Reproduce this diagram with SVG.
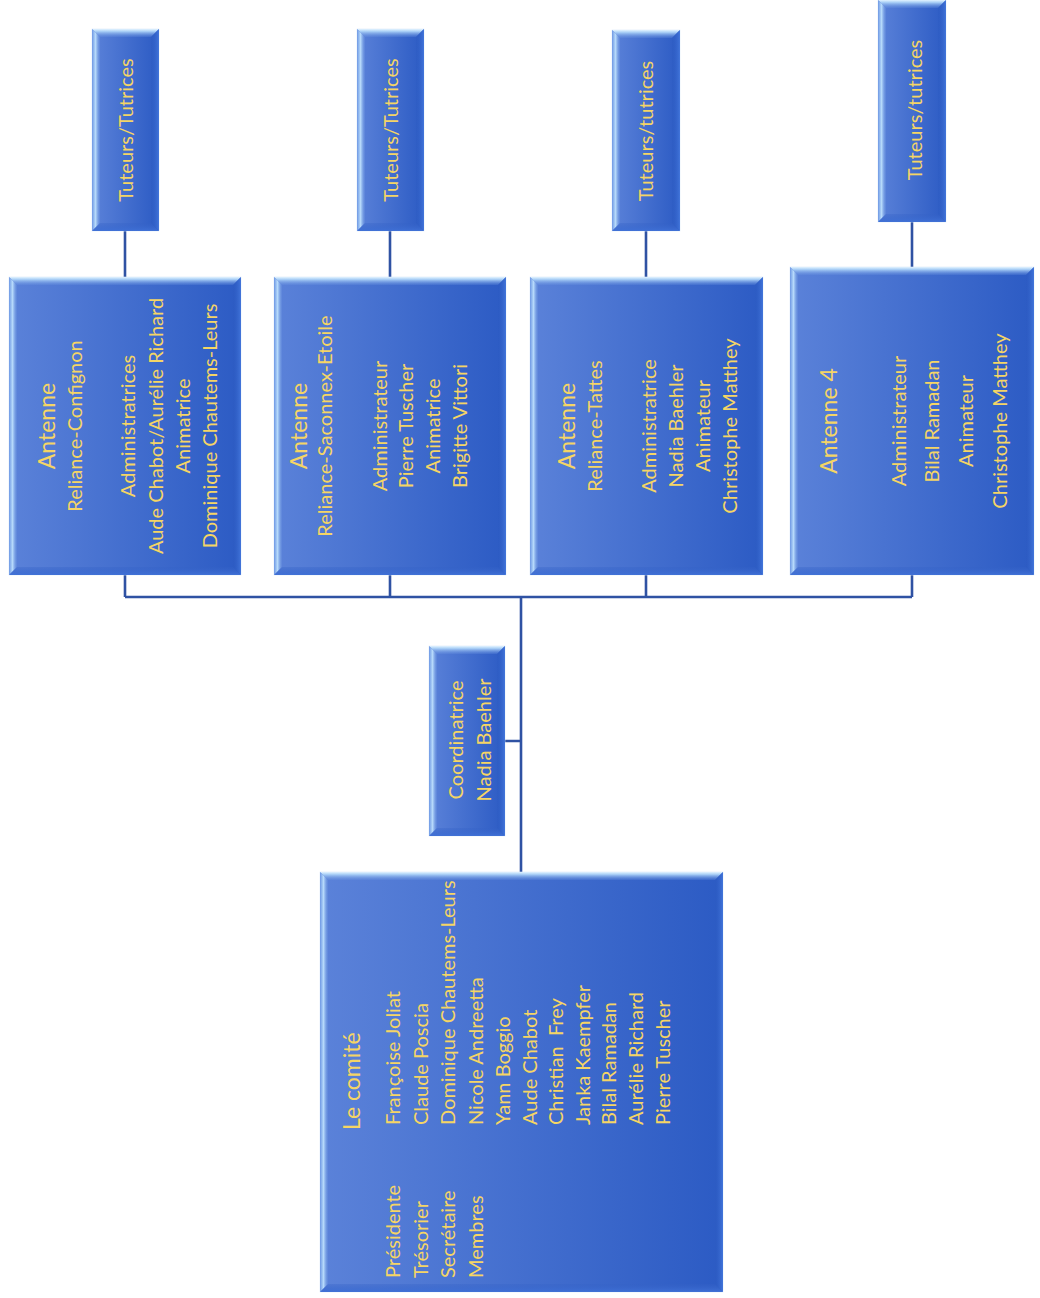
<svg xmlns="http://www.w3.org/2000/svg" width="1040" height="1298" viewBox="0 0 1040 1298">
<defs>
<linearGradient id="gBody" x1="0" y1="0" x2="1" y2="0"><stop offset="0" stop-color="#5b82d9"/><stop offset="1" stop-color="#2c5bc4"/></linearGradient>
<linearGradient id="gTop" x1="0" y1="0" x2="0" y2="1"><stop offset="0" stop-color="#e2f3ff"/><stop offset="0.3" stop-color="#a9cff6"/><stop offset="1" stop-color="#6f98e2" stop-opacity="0.2"/></linearGradient>
<linearGradient id="gLeft" x1="0" y1="0" x2="1" y2="0"><stop offset="0" stop-color="#6e98e4"/><stop offset="0.45" stop-color="#b8dbfb"/><stop offset="1" stop-color="#6a93e0" stop-opacity="0.3"/></linearGradient>
<linearGradient id="gBot" x1="0" y1="1" x2="0" y2="0"><stop offset="0" stop-color="#3f70d6"/><stop offset="1" stop-color="#3461c6" stop-opacity="0.3"/></linearGradient>
<linearGradient id="gRight" x1="1" y1="0" x2="0" y2="0"><stop offset="0" stop-color="#4174da"/><stop offset="1" stop-color="#2b59c0" stop-opacity="0.3"/></linearGradient>
</defs>
<style>
.body{fill:url(#gBody);stroke:#dbe9f8;stroke-width:0.6}
.bt{fill:url(#gTop)}
.bl{fill:url(#gLeft)}
.bb{fill:url(#gBot)}
.br{fill:url(#gRight)}
.conn{stroke:#2f52a3;stroke-width:2.6;fill:none}
text{font-family:Lato,"Open Sans",sans-serif;fill:#f5d565}
.t{font-size:23px}
.b{font-size:20px}
.m{text-anchor:middle}
</style>
<g id="connectors">
<path class="conn" d="M125,231V277M390,231V277M646,231V277M912,222V267"/>
<path class="conn" d="M125,575V597M390,575V597M646,575V597M912,575V597M125,597H912"/>
<path class="conn" d="M521,597V872M505,741H521"/>
</g>

<g id="tuteurs1">
<rect class="body" x="92" y="29" width="67" height="202"/>
<polygon class="bt" points="92,29 159,29 151,37 100,37"/>
<polygon class="bl" points="92,29 100,37 100,223 92,231"/>
<polygon class="bb" points="92,231 100,223 151,223 159,231"/>
<polygon class="br" points="159,29 159,231 151,223 151,37"/>
<text class="b m" transform="translate(133,130) rotate(-90)">Tuteurs/Tutrices</text>
</g>
<g id="tuteurs2">
<rect class="body" x="357" y="29" width="67" height="202"/>
<polygon class="bt" points="357,29 424,29 416,37 365,37"/>
<polygon class="bl" points="357,29 365,37 365,223 357,231"/>
<polygon class="bb" points="357,231 365,223 416,223 424,231"/>
<polygon class="br" points="424,29 424,231 416,223 416,37"/>
<text class="b m" transform="translate(398,130) rotate(-90)">Tuteurs/Tutrices</text>
</g>
<g id="tuteurs3">
<rect class="body" x="612" y="30" width="68" height="201"/>
<polygon class="bt" points="612,30 680,30 672,38 620,38"/>
<polygon class="bl" points="612,30 620,38 620,223 612,231"/>
<polygon class="bb" points="612,231 620,223 672,223 680,231"/>
<polygon class="br" points="680,30 680,231 672,223 672,38"/>
<text class="b m" transform="translate(653,131) rotate(-90)">Tuteurs/tutrices</text>
</g>
<g id="tuteurs4">
<rect class="body" x="878" y="0" width="68" height="222"/>
<polygon class="bt" points="878,0 946,0 938,8 886,8"/>
<polygon class="bl" points="878,0 886,8 886,214 878,222"/>
<polygon class="bb" points="878,222 886,214 938,214 946,222"/>
<polygon class="br" points="946,0 946,222 938,214 938,8"/>
<text class="b m" transform="translate(922,110) rotate(-90)">Tuteurs/tutrices</text>
</g>

<g id="antenne1">
<rect class="body" x="9" y="277" width="232" height="298"/>
<polygon class="bt" points="9,277 241,277 233,285 17,285"/>
<polygon class="bl" points="9,277 17,285 17,567 9,575"/>
<polygon class="bb" points="9,575 17,567 233,567 241,575"/>
<polygon class="br" points="241,277 241,575 233,567 233,285"/>
<text class="t m" transform="translate(55,426) rotate(-90)">Antenne</text>
<text class="b m" transform="translate(82,426) rotate(-90)">Reliance-Confignon</text>
<text class="b m" transform="translate(135,426) rotate(-90)">Administratrices</text>
<text class="b m" transform="translate(163,426) rotate(-90)">Aude Chabot/Aurélie Richard</text>
<text class="b m" transform="translate(190,426) rotate(-90)">Animatrice</text>
<text class="b m" transform="translate(217,426) rotate(-90)">Dominique Chautems-Leurs</text>
</g>
<g id="antenne2">
<rect class="body" x="274" y="277" width="232" height="298"/>
<polygon class="bt" points="274,277 506,277 498,285 282,285"/>
<polygon class="bl" points="274,277 282,285 282,567 274,575"/>
<polygon class="bb" points="274,575 282,567 498,567 506,575"/>
<polygon class="br" points="506,277 506,575 498,567 498,285"/>
<text class="t m" transform="translate(307,426) rotate(-90)">Antenne</text>
<text class="b m" transform="translate(332,426) rotate(-90)">Reliance-Saconnex-Etoile</text>
<text class="b m" transform="translate(387,426) rotate(-90)">Administrateur</text>
<text class="b m" transform="translate(413,426) rotate(-90)">Pierre Tuscher</text>
<text class="b m" transform="translate(440,426) rotate(-90)">Animatrice</text>
<text class="b m" transform="translate(467,426) rotate(-90)">Brigitte Vittori</text>
</g>
<g id="antenne3">
<rect class="body" x="530" y="277" width="233" height="298"/>
<polygon class="bt" points="530,277 763,277 755,285 538,285"/>
<polygon class="bl" points="530,277 538,285 538,567 530,575"/>
<polygon class="bb" points="530,575 538,567 755,567 763,575"/>
<polygon class="br" points="763,277 763,575 755,567 755,285"/>
<text class="t m" transform="translate(575,426) rotate(-90)">Antenne</text>
<text class="b m" transform="translate(602,426) rotate(-90)">Reliance-Tattes</text>
<text class="b m" transform="translate(656,426) rotate(-90)">Administratrice</text>
<text class="b m" transform="translate(683,426) rotate(-90)">Nadia Baehler</text>
<text class="b m" transform="translate(710,426) rotate(-90)">Animateur</text>
<text class="b m" transform="translate(737,426) rotate(-90)">Christophe Matthey</text>
</g>
<g id="antenne4">
<rect class="body" x="790" y="267" width="244" height="308"/>
<polygon class="bt" points="790,267 1034,267 1026,275 798,275"/>
<polygon class="bl" points="790,267 798,275 798,567 790,575"/>
<polygon class="bb" points="790,575 798,567 1026,567 1034,575"/>
<polygon class="br" points="1034,267 1034,575 1026,567 1026,275"/>
<text class="t m" transform="translate(837,421) rotate(-90)">Antenne 4</text>
<text class="b m" transform="translate(906,421) rotate(-90)">Administrateur</text>
<text class="b m" transform="translate(939,421) rotate(-90)">Bilal Ramadan</text>
<text class="b m" transform="translate(973,421) rotate(-90)">Animateur</text>
<text class="b m" transform="translate(1007,421) rotate(-90)">Christophe Matthey</text>
</g>

<g id="coordinatrice">
<rect class="body" x="429" y="646" width="76" height="190"/>
<polygon class="bt" points="429,646 505,646 497,654 437,654"/>
<polygon class="bl" points="429,646 437,654 437,828 429,836"/>
<polygon class="bb" points="429,836 437,828 497,828 505,836"/>
<polygon class="br" points="505,646 505,836 497,828 497,654"/>
<text class="b m" transform="translate(463,740) rotate(-90)">Coordinatrice</text>
<text class="b m" transform="translate(491,740) rotate(-90)">Nadia Baehler</text>
</g>

<g id="comite">
<rect class="body" x="320" y="872" width="403" height="420"/>
<polygon class="bt" points="320,872 723,872 715,880 328,880"/>
<polygon class="bl" points="320,872 328,880 328,1284 320,1292"/>
<polygon class="bb" points="320,1292 328,1284 715,1284 723,1292"/>
<polygon class="br" points="723,872 723,1292 715,1284 715,880"/>
<text class="t" transform="translate(360,1130) rotate(-90)">Le comité</text>
<text class="b" transform="translate(400,1278) rotate(-90)">Présidente</text>
<text class="b" transform="translate(428,1278) rotate(-90)">Trésorier</text>
<text class="b" transform="translate(455,1278) rotate(-90)">Secrétaire</text>
<text class="b" transform="translate(483,1278) rotate(-90)">Membres</text>
<text class="b" transform="translate(400,1125) rotate(-90)">Françoise Joliat</text>
<text class="b" transform="translate(428,1125) rotate(-90)">Claude Poscia</text>
<text class="b" transform="translate(455,1125) rotate(-90)">Dominique Chautems-Leurs</text>
<text class="b" transform="translate(483,1125) rotate(-90)">Nicole Andreetta</text>
<text class="b" transform="translate(510,1125) rotate(-90)">Yann Boggio</text>
<text class="b" transform="translate(537,1125) rotate(-90)">Aude Chabot</text>
<text class="b" transform="translate(563,1125) rotate(-90)">Christian&#160; Frey</text>
<text class="b" transform="translate(590,1125) rotate(-90)">Janka Kaempfer</text>
<text class="b" transform="translate(616,1125) rotate(-90)">Bilal Ramadan</text>
<text class="b" transform="translate(643,1125) rotate(-90)">Aurélie Richard</text>
<text class="b" transform="translate(670,1125) rotate(-90)">Pierre Tuscher</text>
</g>
</svg>
